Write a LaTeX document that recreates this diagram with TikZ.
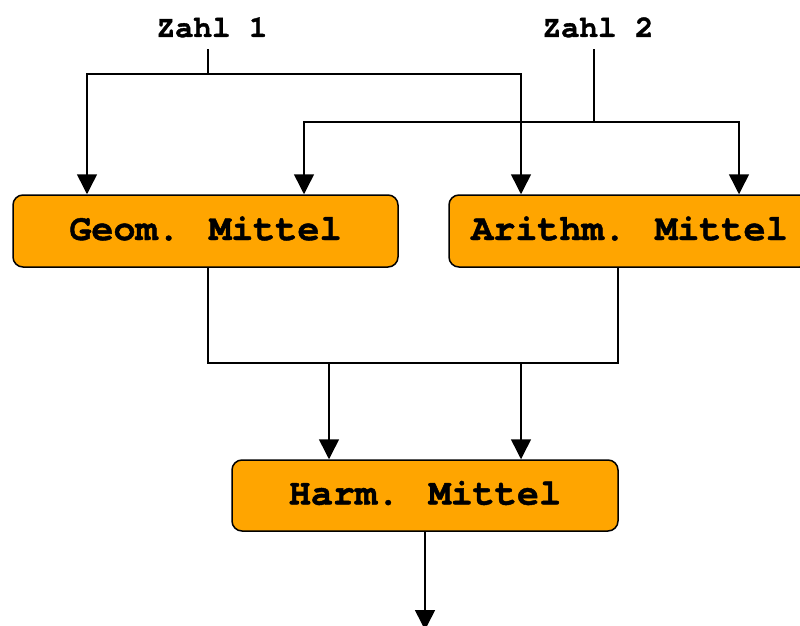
\documentclass[tikz,border=0pt]{standalone}
\usepackage{fontspec}
\newfontfamily\courfont{TeX Gyre Cursor}[BoldFeatures={FakeBold=1.2}]
\usetikzlibrary{arrows.meta}
\definecolor{boxorange}{RGB}{255,165,0}
\tikzset{
  lbl/.style={font=\courfont\bfseries\fontsize{30.8}{36}\selectfont, inner xsep=0pt, inner ysep=12pt, text height=22pt, text depth=0pt},
  mbox/.style={draw=black, line width=1.5pt, fill=boxorange, rounded corners=10pt,
    font=\courfont\bfseries\fontsize{36.8}{42}\selectfont, minimum height=72pt, inner sep=0pt,
    text height=18pt, text depth=0pt},
  conn/.style={line width=1.5pt, draw=black},
  arr/.style={conn, -{Triangle[length=20pt,width=20pt]}}
}
\begin{document}
\begin{tikzpicture}[x=1pt,y=-1pt]
\useasboundingbox (0,0) rectangle (800,626);
\clip (0,0) rectangle (800,626);
\node[lbl] (z1) at (212,26) {Zahl 1};
\node[lbl] (z2) at (598,26) {Zahl 2};
\node[mbox, minimum width=385pt] (g) at (205.5,231) {Geom. Mittel};
\node[mbox, minimum width=361pt] (a) at (629.5,231) {Arithm. Mittel};
\node[mbox, minimum width=386pt, minimum height=71pt] (h) at (425,495.5) {Harm. Mittel};
\coordinate (j1) at (208,74);
\coordinate (j2) at (594,122);
\coordinate (j3) at (329,363);
\coordinate (j4) at (521,363);
\coordinate (out) at (425,630);
% Zahl 1
\draw[conn] ([xshift=-4pt]z1.south) -- (j1);
\draw[arr] (j1) -| ([xshift=-118.5pt]g.north);
\draw[arr] (j1) -| ([xshift=-108.5pt]a.north);
% Zahl 2
\draw[conn] ([xshift=-4pt]z2.south) -- (j2);
\draw[arr] (j2) -| ([xshift=98.5pt]g.north);
\draw[arr] (j2) -| ([xshift=109.5pt]a.north);
% merge
\draw[conn] ([xshift=2.5pt]g.south) |- (j3) -- (j4) -| ([xshift=-11.5pt]a.south);
\draw[arr] (j3) -- ([xshift=-96pt]h.north);
\draw[arr] (j4) -- ([xshift=96pt]h.north);
% output
\draw[arr] (h.south) -- (out);
\end{tikzpicture}
\end{document}
